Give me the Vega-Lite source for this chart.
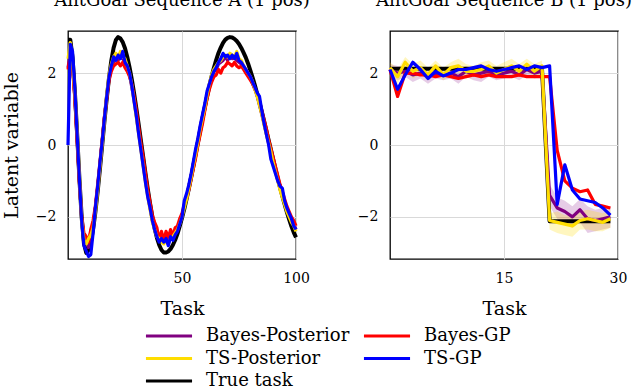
{
"$schema": "https://vega.github.io/schema/vega-lite/v6.json",
"padding": {"top": -9, "left": 1, "right": 0, "bottom": 0},
"spacing": 94,
"bounds": "flush",
"datasets": {
"A": [
{"t":0,"tt":2.93,"bp":2.15,"bgp":2.1,"tsp":2.4,"tsgp":0},
{"t":1,"tt":2.93,"bp":2.55,"bgp":2.45,"tsp":2.85,"tsgp":2.8},
{"t":2,"tt":2.43,"bp":2.2,"bgp":2.15,"tsp":2.3,"tsgp":2.6},
{"t":3,"tt":1.5,"bp":1.35,"bgp":1.3,"tsp":1.45,"tsgp":1.55},
{"t":4,"tt":0.31,"bp":0.2,"bgp":0.15,"tsp":0.35,"tsgp":0.3},
{"t":5,"tt":-0.93,"bp":-1.0,"bgp":-1.05,"tsp":-0.9,"tsgp":-0.95},
{"t":6,"tt":-2.01,"bp":-2.05,"bgp":-2.0,"tsp":-2.1,"tsgp":-2.1},
{"t":7,"tt":-2.74,"bp":-2.6,"bgp":-2.45,"tsp":-2.65,"tsgp":-2.8},
{"t":8,"tt":-3.0,"bp":-2.6,"bgp":-2.55,"tsp":-2.75,"tsgp":-2.95},
{"t":9,"tt":-2.92,"bp":-2.85,"bgp":-2.7,"tsp":-2.6,"tsgp":-3.1},
{"t":10,"tt":-2.7,"bp":-2.4,"bgp":-2.35,"tsp":-2.5,"tsgp":-3.05},
{"t":11,"tt":-2.35,"bp":-2.2,"bgp":-2.1,"tsp":-2.3,"tsgp":-2.45},
{"t":12,"tt":-1.87,"bp":-1.75,"bgp":-1.7,"tsp":-1.85,"tsgp":-1.75},
{"t":13,"tt":-1.3,"bp":-1.2,"bgp":-1.1,"tsp":-1.25,"tsgp":-1.15},
{"t":14,"tt":-0.67,"bp":-0.55,"bgp":-0.5,"tsp":-0.6,"tsgp":-0.5},
{"t":15,"tt":0,"bp":0.1,"bgp":0.15,"tsp":0.05,"tsgp":0.1},
{"t":16,"tt":0.67,"bp":0.75,"bgp":0.8,"tsp":0.7,"tsgp":0.75},
{"t":17,"tt":1.3,"bp":1.35,"bgp":1.3,"tsp":1.4,"tsgp":1.35},
{"t":18,"tt":1.87,"bp":1.85,"bgp":1.8,"tsp":1.95,"tsgp":1.9},
{"t":19,"tt":2.35,"bp":2.15,"bgp":2.05,"tsp":2.25,"tsgp":2.2},
{"t":20,"tt":2.7,"bp":2.3,"bgp":2.2,"tsp":2.45,"tsgp":2.45},
{"t":21,"tt":2.92,"bp":2.45,"bgp":2.25,"tsp":2.55,"tsgp":2.35},
{"t":22,"tt":3.0,"bp":2.35,"bgp":2.3,"tsp":2.45,"tsgp":2.5},
{"t":23,"tt":2.96,"bp":2.5,"bgp":2.2,"tsp":2.6,"tsgp":2.4},
{"t":24,"tt":2.86,"bp":2.4,"bgp":2.3,"tsp":2.45,"tsgp":2.6},
{"t":25,"tt":2.69,"bp":2.3,"bgp":2.15,"tsp":2.4,"tsgp":2.3},
{"t":26,"tt":2.45,"bp":2.15,"bgp":2.05,"tsp":2.2,"tsgp":2.2},
{"t":27,"tt":2.16,"bp":1.95,"bgp":1.9,"tsp":2.0,"tsgp":2.0},
{"t":28,"tt":1.82,"bp":1.6,"bgp":1.7,"tsp":1.65,"tsgp":1.65},
{"t":29,"tt":1.43,"bp":1.25,"bgp":1.35,"tsp":1.2,"tsgp":1.2},
{"t":30,"tt":1.01,"bp":0.8,"bgp":0.95,"tsp":0.75,"tsgp":0.8},
{"t":31,"tt":0.57,"bp":0.35,"bgp":0.5,"tsp":0.3,"tsgp":0.3},
{"t":32,"tt":0.11,"bp":-0.1,"bgp":0.05,"tsp":-0.15,"tsgp":-0.15},
{"t":33,"tt":-0.34,"bp":-0.55,"bgp":-0.35,"tsp":-0.6,"tsgp":-0.6},
{"t":34,"tt":-0.8,"bp":-1.0,"bgp":-0.8,"tsp":-1.05,"tsgp":-1.05},
{"t":35,"tt":-1.23,"bp":-1.4,"bgp":-1.25,"tsp":-1.45,"tsgp":-1.45},
{"t":36,"tt":-1.63,"bp":-1.75,"bgp":-1.6,"tsp":-1.8,"tsgp":-1.75},
{"t":37,"tt":-2.0,"bp":-2.1,"bgp":-1.95,"tsp":-2.15,"tsgp":-2.1},
{"t":38,"tt":-2.32,"bp":-2.3,"bgp":-2.15,"tsp":-2.35,"tsgp":-2.35},
{"t":39,"tt":-2.58,"bp":-2.5,"bgp":-2.3,"tsp":-2.55,"tsgp":-2.55},
{"t":40,"tt":-2.78,"bp":-2.6,"bgp":-2.65,"tsp":-2.6,"tsgp":-2.7},
{"t":41,"tt":-2.92,"bp":-2.55,"bgp":-2.4,"tsp":-2.7,"tsgp":-2.6},
{"t":42,"tt":-2.99,"bp":-2.7,"bgp":-2.65,"tsp":-2.75,"tsgp":-2.7},
{"t":43,"tt":-2.99,"bp":-2.6,"bgp":-2.4,"tsp":-2.65,"tsgp":-2.6},
{"t":44,"tt":-2.96,"bp":-2.75,"bgp":-2.6,"tsp":-2.7,"tsgp":-2.8},
{"t":45,"tt":-2.89,"bp":-2.55,"bgp":-2.35,"tsp":-2.6,"tsgp":-2.55},
{"t":46,"tt":-2.78,"bp":-2.6,"bgp":-2.55,"tsp":-2.55,"tsgp":-2.65},
{"t":47,"tt":-2.64,"bp":-2.4,"bgp":-2.3,"tsp":-2.45,"tsgp":-2.5},
{"t":48,"tt":-2.47,"bp":-2.3,"bgp":-2.25,"tsp":-2.35,"tsgp":-2.4},
{"t":49,"tt":-2.26,"bp":-2.15,"bgp":-2.05,"tsp":-2.2,"tsgp":-2.2},
{"t":50,"tt":-2.03,"bp":-1.95,"bgp":-1.9,"tsp":-2.0,"tsgp":-2.0},
{"t":51,"tt":-1.78,"bp":-1.7,"bgp":-1.65,"tsp":-1.75,"tsgp":-1.55},
{"t":52,"tt":-1.5,"bp":-1.45,"bgp":-1.5,"tsp":-1.5,"tsgp":-1.35},
{"t":53,"tt":-1.21,"bp":-1.15,"bgp":-1.25,"tsp":-1.2,"tsgp":-1.1},
{"t":54,"tt":-0.9,"bp":-0.85,"bgp":-0.95,"tsp":-0.9,"tsgp":-0.8},
{"t":55,"tt":-0.58,"bp":-0.5,"bgp":-0.65,"tsp":-0.55,"tsgp":-0.45},
{"t":56,"tt":-0.25,"bp":-0.2,"bgp":-0.35,"tsp":-0.25,"tsgp":-0.1},
{"t":57,"tt":0.08,"bp":0.15,"bgp":0,"tsp":0.1,"tsgp":0.2},
{"t":58,"tt":0.41,"bp":0.5,"bgp":0.3,"tsp":0.45,"tsgp":0.55},
{"t":59,"tt":0.74,"bp":0.8,"bgp":0.6,"tsp":0.75,"tsgp":0.85},
{"t":60,"tt":1.05,"bp":1.1,"bgp":0.95,"tsp":1.05,"tsgp":1.15},
{"t":61,"tt":1.35,"bp":1.4,"bgp":1.3,"tsp":1.4,"tsgp":1.5},
{"t":62,"tt":1.64,"bp":1.65,"bgp":1.55,"tsp":1.7,"tsgp":1.7},
{"t":63,"tt":1.91,"bp":1.9,"bgp":1.75,"tsp":1.95,"tsgp":1.9},
{"t":64,"tt":2.15,"bp":2.05,"bgp":1.9,"tsp":2.1,"tsgp":2.05},
{"t":65,"tt":2.37,"bp":2.1,"bgp":1.95,"tsp":2.2,"tsgp":2.15},
{"t":66,"tt":2.56,"bp":2.25,"bgp":2.1,"tsp":2.3,"tsgp":2.3},
{"t":67,"tt":2.71,"bp":2.3,"bgp":2.0,"tsp":2.35,"tsgp":2.4},
{"t":68,"tt":2.84,"bp":2.35,"bgp":2.15,"tsp":2.45,"tsgp":2.55},
{"t":69,"tt":2.93,"bp":2.45,"bgp":2.2,"tsp":2.5,"tsgp":2.45},
{"t":70,"tt":2.98,"bp":2.35,"bgp":2.3,"tsp":2.45,"tsgp":2.5},
{"t":71,"tt":3.0,"bp":2.5,"bgp":2.25,"tsp":2.55,"tsgp":2.4},
{"t":72,"tt":2.99,"bp":2.4,"bgp":2.2,"tsp":2.5,"tsgp":2.5},
{"t":73,"tt":2.95,"bp":2.45,"bgp":2.3,"tsp":2.45,"tsgp":2.4},
{"t":74,"tt":2.89,"bp":2.35,"bgp":2.2,"tsp":2.6,"tsgp":2.55},
{"t":75,"tt":2.81,"bp":2.3,"bgp":2.15,"tsp":2.4,"tsgp":2.35},
{"t":76,"tt":2.7,"bp":2.25,"bgp":2.2,"tsp":2.35,"tsgp":2.3},
{"t":77,"tt":2.57,"bp":2.15,"bgp":2.1,"tsp":2.2,"tsgp":2.2},
{"t":78,"tt":2.43,"bp":2.05,"bgp":2.0,"tsp":2.1,"tsgp":2.1},
{"t":79,"tt":2.26,"bp":1.95,"bgp":1.9,"tsp":2.0,"tsgp":2.0},
{"t":80,"tt":2.07,"bp":1.85,"bgp":1.8,"tsp":1.9,"tsgp":1.9},
{"t":81,"tt":1.87,"bp":1.7,"bgp":1.7,"tsp":1.75,"tsgp":1.75},
{"t":82,"tt":1.65,"bp":1.55,"bgp":1.55,"tsp":1.55,"tsgp":1.6},
{"t":83,"tt":1.42,"bp":1.35,"bgp":1.4,"tsp":1.35,"tsgp":1.45},
{"t":84,"tt":1.18,"bp":1.1,"bgp":1.2,"tsp":1.1,"tsgp":1.35},
{"t":85,"tt":0.93,"bp":0.85,"bgp":0.95,"tsp":0.85,"tsgp":0.95},
{"t":86,"tt":0.67,"bp":0.6,"bgp":0.7,"tsp":0.55,"tsgp":0.6},
{"t":87,"tt":0.4,"bp":0.3,"bgp":0.45,"tsp":0.3,"tsgp":0.3},
{"t":88,"tt":0.13,"bp":0.05,"bgp":0.15,"tsp":0.05,"tsgp":0},
{"t":89,"tt":-0.13,"bp":-0.2,"bgp":-0.1,"tsp":-0.2,"tsgp":-0.4},
{"t":90,"tt":-0.4,"bp":-0.45,"bgp":-0.35,"tsp":-0.5,"tsgp":-0.6},
{"t":91,"tt":-0.67,"bp":-0.7,"bgp":-0.6,"tsp":-0.75,"tsgp":-0.8},
{"t":92,"tt":-0.93,"bp":-0.95,"bgp":-0.85,"tsp":-1.0,"tsgp":-1.0},
{"t":93,"tt":-1.18,"bp":-1.2,"bgp":-1.1,"tsp":-1.25,"tsgp":-1.15},
{"t":94,"tt":-1.42,"bp":-1.4,"bgp":-1.3,"tsp":-1.45,"tsgp":-1.2},
{"t":95,"tt":-1.65,"bp":-1.6,"bgp":-1.5,"tsp":-1.65,"tsgp":-1.55},
{"t":96,"tt":-1.87,"bp":-1.8,"bgp":-1.7,"tsp":-1.85,"tsgp":-1.75},
{"t":97,"tt":-2.07,"bp":-1.95,"bgp":-1.85,"tsp":-2.0,"tsgp":-1.9},
{"t":98,"tt":-2.26,"bp":-2.1,"bgp":-2.0,"tsp":-2.15,"tsgp":-2.05},
{"t":99,"tt":-2.43,"bp":-2.2,"bgp":-2.1,"tsp":-2.25,"tsgp":-2.25},
{"t":100,"tt":-2.57,"bp":-2.35,"bgp":-2.25,"tsp":-2.4,"tsgp":-2.35}
],
"B": [
{"t":0,"tt":2.12,"bp":2.1,"bgp":2.1,"tsp":2.15,"tsgp":2.1,"bpl":1.95,"bph":2.25,"tspl":1.95,"tsph":2.3},
{"t":1,"tt":2.12,"bp":2.0,"bgp":1.35,"tsp":1.9,"tsgp":1.55,"bpl":1.8,"bph":2.2,"tspl":1.7,"tsph":2.1},
{"t":2,"tt":2.12,"bp":2.05,"bgp":2.0,"tsp":2.3,"tsgp":1.95,"bpl":1.9,"bph":2.2,"tspl":2.1,"tsph":2.45},
{"t":3,"tt":2.12,"bp":1.95,"bgp":2.0,"tsp":2.05,"tsgp":2.3,"bpl":1.75,"bph":2.1,"tspl":1.85,"tsph":2.25},
{"t":4,"tt":2.12,"bp":2.0,"bgp":1.95,"tsp":2.15,"tsgp":2.1,"bpl":1.85,"bph":2.15,"tspl":1.95,"tsph":2.35},
{"t":5,"tt":2.12,"bp":1.9,"bgp":1.95,"tsp":1.95,"tsgp":1.85,"bpl":1.7,"bph":2.05,"tspl":1.8,"tsph":2.15},
{"t":6,"tt":2.12,"bp":2.0,"bgp":1.9,"tsp":2.2,"tsgp":2.05,"bpl":1.85,"bph":2.15,"tspl":2.0,"tsph":2.35},
{"t":7,"tt":2.12,"bp":1.95,"bgp":1.95,"tsp":1.95,"tsgp":1.92,"bpl":1.8,"bph":2.1,"tspl":1.8,"tsph":2.15},
{"t":8,"tt":2.12,"bp":2.0,"bgp":1.9,"tsp":2.15,"tsgp":2.0,"bpl":1.85,"bph":2.15,"tspl":1.95,"tsph":2.3},
{"t":9,"tt":2.12,"bp":1.9,"bgp":1.85,"tsp":2.2,"tsgp":2.1,"bpl":1.7,"bph":2.05,"tspl":2.0,"tsph":2.4},
{"t":10,"tt":2.12,"bp":2.05,"bgp":1.9,"tsp":2.05,"tsgp":2.1,"bpl":1.9,"bph":2.2,"tspl":1.85,"tsph":2.25},
{"t":11,"tt":2.12,"bp":1.95,"bgp":1.95,"tsp":2.05,"tsgp":2.15,"bpl":1.8,"bph":2.1,"tspl":1.9,"tsph":2.2},
{"t":12,"tt":2.12,"bp":2.0,"bgp":1.9,"tsp":2.1,"tsgp":2.2,"bpl":1.75,"bph":2.15,"tspl":1.95,"tsph":2.3},
{"t":13,"tt":2.12,"bp":2.05,"bgp":1.95,"tsp":2.2,"tsgp":2.1,"bpl":1.9,"bph":2.2,"tspl":2.0,"tsph":2.35},
{"t":14,"tt":2.12,"bp":1.95,"bgp":1.9,"tsp":2.0,"tsgp":2.05,"bpl":1.8,"bph":2.1,"tspl":1.85,"tsph":2.2},
{"t":15,"tt":2.12,"bp":2.0,"bgp":1.9,"tsp":2.1,"tsgp":2.1,"bpl":1.85,"bph":2.15,"tspl":1.95,"tsph":2.3},
{"t":16,"tt":2.12,"bp":2.05,"bgp":1.9,"tsp":2.2,"tsgp":2.15,"bpl":1.9,"bph":2.2,"tspl":2.0,"tsph":2.4},
{"t":17,"tt":2.12,"bp":1.95,"bgp":1.95,"tsp":2.05,"tsgp":2.2,"bpl":1.8,"bph":2.1,"tspl":1.9,"tsph":2.25},
{"t":18,"tt":2.12,"bp":2.1,"bgp":1.9,"tsp":2.25,"tsgp":2.1,"bpl":1.95,"bph":2.25,"tspl":2.05,"tsph":2.4},
{"t":19,"tt":2.12,"bp":2.0,"bgp":1.9,"tsp":2.05,"tsgp":2.2,"bpl":1.85,"bph":2.15,"tspl":1.9,"tsph":2.25},
{"t":20,"tt":2.12,"bp":2.05,"bgp":1.9,"tsp":2.2,"tsgp":2.15,"bpl":1.9,"bph":2.2,"tspl":2.0,"tsph":2.35},
{"t":21,"tt":-2.12,"bp":-1.4,"bgp":1.9,"tsp":-2.1,"tsgp":2.2,"bpl":-1.7,"bph":-1.1,"tspl":-2.35,"tsph":-1.9},
{"t":22,"tt":-2.12,"bp":-1.75,"bgp":-0.15,"tsp":-2.15,"tsgp":-1.65,"bpl":-2.05,"bph":-1.45,"tspl":-2.45,"tsph":-1.85},
{"t":23,"tt":-2.12,"bp":-1.85,"bgp":-1.0,"tsp":-2.2,"tsgp":-0.55,"bpl":-2.2,"bph":-1.55,"tspl":-2.5,"tsph":-1.95},
{"t":24,"tt":-2.12,"bp":-2.0,"bgp":-1.2,"tsp":-2.25,"tsgp":-1.25,"bpl":-2.3,"bph":-1.7,"tspl":-2.55,"tsph":-1.95},
{"t":25,"tt":-2.12,"bp":-1.8,"bgp":-1.3,"tsp":-2.1,"tsgp":-1.5,"bpl":-2.15,"bph":-1.5,"tspl":-2.35,"tsph":-1.85},
{"t":26,"tt":-2.12,"bp":-2.05,"bgp":-1.25,"tsp":-2.05,"tsgp":-1.55,"bpl":-2.45,"bph":-1.7,"tspl":-2.35,"tsph":-1.8},
{"t":27,"tt":-2.12,"bp":-2.1,"bgp":-1.65,"tsp":-2.1,"tsgp":-1.6,"bpl":-2.4,"bph":-1.8,"tspl":-2.4,"tsph":-1.85},
{"t":28,"tt":-2.12,"bp":-2.05,"bgp":-1.7,"tsp":-2.15,"tsgp":-1.75,"bpl":-2.35,"bph":-1.75,"tspl":-2.4,"tsph":-1.9},
{"t":29,"tt":-2.12,"bp":-2.0,"bgp":-1.75,"tsp":-2.05,"tsgp":-1.95,"bpl":-2.3,"bph":-1.7,"tspl":-2.3,"tsph":-1.8}
]
},
"hconcat": [
{
"width": 228, "height": 228,
"title": "AntGoal Sequence A (1 pos)",
"data": {"name": "A"},
"transform": [{"fold": ["tt","bp","bgp","tsp","tsgp"], "as": ["s","v"]}],
"mark": {"type": "line", "strokeJoin": "round"},
"encoding": {
"x": {"field": "t", "type": "quantitative", "scale": {"domain": [0,100], "nice": false}, "axis": {"values": [50,100], "title": "Task"}},
"y": {"field": "v", "type": "quantitative", "scale": {"domain": [-3.17,3.17], "nice": false, "zero": false}, "axis": {"values": [-2,0,2], "title": "Latent variable"}},
"color": {"field": "s", "type": "nominal", "scale": {"domain": ["bp","tsp","tt","bgp","tsgp"], "range": ["#800080","#ffdd00","#000000","#ff0000","#0000ff"]},
"legend": {"orient": "none", "legendX": 90, "legendY": 294, "columns": 2, "title": null, "labelExpr": "datum.label == 'bp' ? 'Bayes-Posterior' : datum.label == 'bgp' ? 'Bayes-GP' : datum.label == 'tsp' ? 'TS-Posterior' : datum.label == 'tsgp' ? 'TS-GP' : 'True task'"}},
"strokeWidth": {"condition": {"test": "datum.s === 'tt'", "value": 4}, "value": 3.2}
}
},
{
"width": 228, "height": 228,
"title": "AntGoal Sequence B (1 pos)",
"data": {"name": "B"},
"layer": [
{"mark": {"type": "area", "color": "#800080", "opacity": 0.2},
"encoding": {
"x": {"field": "t", "type": "quantitative", "scale": {"domain": [0,30], "nice": false}, "axis": {"values": [15,30], "title": "Task"}},
"y": {"field": "bpl", "type": "quantitative", "scale": {"domain": [-3.17,3.17], "nice": false, "zero": false}, "axis": {"values": [-2,0,2], "title": null}},
"y2": {"field": "bph"}
}},
{"mark": {"type": "area", "color": "#ffdd00", "opacity": 0.25},
"encoding": {
"x": {"field": "t", "type": "quantitative", "scale": {"domain": [0,30], "nice": false}, "axis": {"values": [15,30], "title": "Task"}},
"y": {"field": "tspl", "type": "quantitative", "scale": {"domain": [-3.17,3.17], "nice": false, "zero": false}, "axis": {"values": [-2,0,2], "title": null}},
"y2": {"field": "tsph"}
}},
{"transform": [{"fold": ["tt","bp","bgp","tsp","tsgp"], "as": ["s","v"]}],
"mark": {"type": "line", "strokeJoin": "round"},
"encoding": {
"x": {"field": "t", "type": "quantitative", "scale": {"domain": [0,30], "nice": false}, "axis": {"values": [15,30], "title": "Task"}},
"y": {"field": "v", "type": "quantitative", "scale": {"domain": [-3.17,3.17], "nice": false, "zero": false}, "axis": {"values": [-2,0,2], "title": null}},
"color": {"field": "s", "type": "nominal", "scale": {"domain": ["bp","tsp","tt","bgp","tsgp"], "range": ["#800080","#ffdd00","#000000","#ff0000","#0000ff"]},
"legend": {"orient": "none", "legendX": 90, "legendY": 294, "columns": 2, "title": null, "labelExpr": "datum.label == 'bp' ? 'Bayes-Posterior' : datum.label == 'bgp' ? 'Bayes-GP' : datum.label == 'tsp' ? 'TS-Posterior' : datum.label == 'tsgp' ? 'TS-GP' : 'True task'"}},
"strokeWidth": {"condition": {"test": "datum.s === 'tt'", "value": 4}, "value": 3.2}
}}
]
}
],
"config": {
"font": "DejaVu Serif",
"view": {"stroke": "black", "strokeWidth": 1.3},
"axis": {"grid": true, "gridColor": "#d9d9d9", "gridWidth": 1, "domain": false, "ticks": false, "tickSize": 0, "labelFlush": false, "labelFont": "DejaVu Serif", "labelFontSize": 14, "labelColor": "black", "labelPadding": 12, "titleFont": "DejaVu Serif", "titleFontSize": 19, "titleFontWeight": "normal", "titleColor": "black"},
"axisX": {"labelPadding": 12, "titlePadding": 14},
"axisY": {"titlePadding": 14},
"title": {"font": "DejaVu Serif", "fontSize": 18, "fontWeight": "normal", "color": "black", "baseline": "alphabetic", "offset": 21, "anchor": "middle"},
"legend": {"symbolType": "M-2.5,0H2.5", "symbolSize": 340, "symbolStrokeWidth": 3, "symbolFillColor": "transparent", "labelFont": "DejaVu Serif", "labelFontSize": 18, "labelColor": "black", "columnPadding": 7, "rowPadding": 2.5, "labelOffset": 26, "labelLimit": 300, "padding": 0}
}
}
